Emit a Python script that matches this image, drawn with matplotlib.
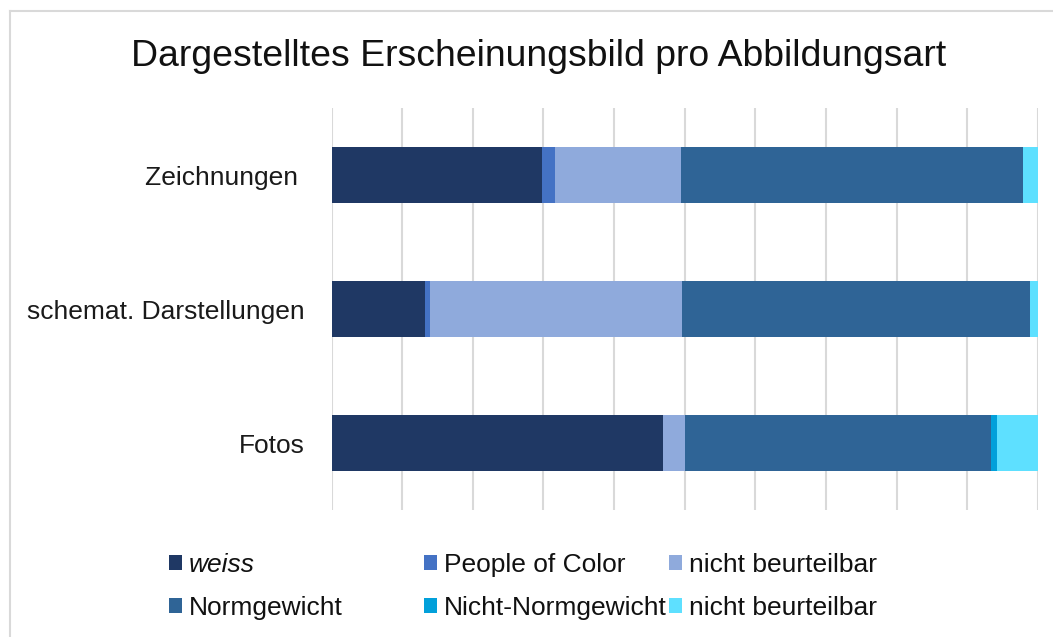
import matplotlib
matplotlib.use("Agg")
import matplotlib.pyplot as plt
from matplotlib.patches import Patch
from matplotlib.lines import Line2D

plt.rcParams['font.family'] = ['Liberation Sans', 'DejaVu Sans']

# categories, top to bottom
categories = ['Zeichnungen ', 'schemat. Darstellungen', 'Fotos']

# first block (skin colour), values in % per category
weiss = [59.7, 26.6, 93.9]
people_of_color = [3.6, 1.2, 0.0]
nb_hautfarbe = [35.6, 71.5, 6.2]
# second block (body weight)
normgewicht = [96.8, 98.3, 86.6]
nicht_normgewicht = [0.0, 0.0, 1.8]
nb_gewicht = [4.6, 2.4, 11.5]

series = [
    ('weiss', weiss, '#1F3864'),
    ('People of Color', people_of_color, '#4472C4'),
    ('nicht beurteilbar', nb_hautfarbe, '#8FAADC'),
    ('Normgewicht', normgewicht, '#2F6496'),
    ('Nicht-Normgewicht', nicht_normgewicht, '#02A0DA'),
    ('nicht beurteilbar', nb_gewicht, '#5EE0FF'),
]

W, H = 1053, 637
fig = plt.figure(figsize=(W / 100, H / 100), dpi=100)

# light grey frame of the chart box
fig.add_artist(Line2D([10 / W, 10 / W], [0, 1 - 11 / H], color='#D9D9D9', lw=1.5))
fig.add_artist(Line2D([10 / W, 1], [1 - 11 / H, 1 - 11 / H], color='#D9D9D9', lw=1.5))

ax = fig.add_axes([331.5 / W, 1 - 510 / H, (1038 - 331.5) / W, (510 - 108) / H])

ypos = list(range(len(categories)))
left = [0.0] * len(categories)
handles = []
for name, vals, col in series:
    ax.barh(ypos, vals, left=left, height=0.425, color=col, linewidth=0)
    left = [a + b for a, b in zip(left, vals)]
    handles.append(Patch(facecolor=col, label=name))

ax.set_xlim(0, 200)
ax.set_ylim(2.5, -0.5)
ax.set_xticks(range(0, 201, 20))
ax.set_xticklabels([])
ax.tick_params(axis='x', length=0)
ax.tick_params(axis='y', length=0, labelsize=19, pad=19)
ax.set_yticks(ypos)
ax.set_yticklabels(categories, color='#1a1a1a')
ax.grid(axis='x', color='#D9D9D9', lw=1.5)
ax.set_axisbelow(True)
for s in ax.spines.values():
    s.set_visible(False)

fig.text(539 / W, 1 - 57 / H, 'Dargestelltes Erscheinungsbild pro Abbildungsart',
         ha='center', va='center', fontsize=26.9, color='#111111')

# legend in three columns, as in the original
col_x = [169, 424, 669]
for i, x in enumerate(col_x):
    pair = [handles[i], handles[i + 3]]
    leg = fig.legend(handles=pair, loc='upper left',
                     bbox_to_anchor=(x / W, 1 - 553 / H), frameon=False,
                     fontsize=19, handlelength=0.5, handleheight=0.5,
                     handletextpad=0.25, labelspacing=0.72, borderaxespad=0,
                     borderpad=0)
    for t in leg.get_texts():
        t.set_color('#111111')
    if i == 0:
        leg.get_texts()[0].set_style('italic')

fig.savefig('out.png', dpi=100)
